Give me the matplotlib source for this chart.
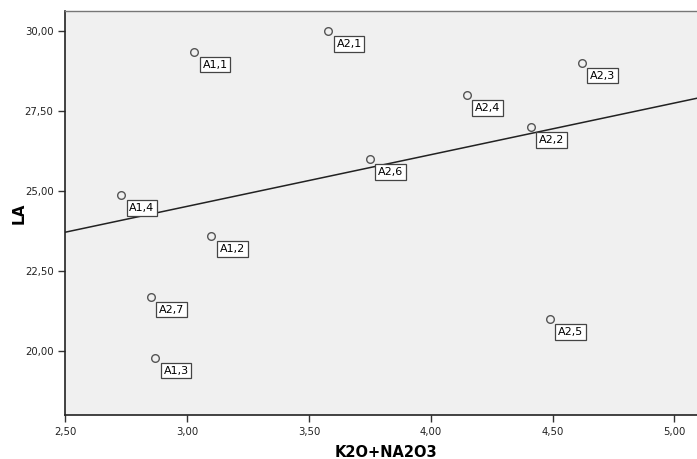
import numpy as np
import matplotlib
matplotlib.use('Agg')
import matplotlib.pyplot as plt
from matplotlib.ticker import FuncFormatter

# values
labels = ['A1,1', 'A2,1', 'A1,4', 'A1,2', 'A2,7', 'A1,3',
          'A2,3', 'A2,4', 'A2,2', 'A2,6', 'A2,5']
k2o_na2o3 = [3.03, 3.58, 2.73, 3.10, 2.85, 2.87, 4.62, 4.15, 4.41, 3.75, 4.49]
la = [29.35, 30.00, 24.88, 23.59, 21.70, 19.79, 29.01, 28.00, 27.00, 26.00, 20.99]

x_ticks = [2.5, 3.0, 3.5, 4.0, 4.5, 5.0]
y_ticks = [20.0, 22.5, 25.0, 27.5, 30.0]

plt.rcParams['font.family'] = 'DejaVu Sans'

fig = plt.figure(figsize=(6.97, 4.59), dpi=100)
ax = fig.add_axes([0.0937, 0.0959, 0.9063, 0.8808])
ax.set_facecolor('#f0f0f0')

x = np.array(k2o_na2o3)
y = np.array(la)
ax.plot(x, y, 'o', ms=5.5, mfc='none', mec='#555555', mew=1.0, zorder=3)

# linear fit
slope, intercept = np.polyfit(x, y, 1)
xl = np.array([2.5, 5.093])
ax.plot(xl, slope * xl + intercept, color='#222222', lw=1.1, zorder=2)

for lab, xi, yi in zip(labels, x, y):
    ax.annotate(lab, (xi, yi), xytext=(8, -8), textcoords='offset pixels',
                ha='left', va='top', fontsize=8, color='black',
                bbox=dict(boxstyle='square,pad=0.25', fc='white',
                          ec='#444444', lw=0.9), zorder=4)

ax.set_xlim(2.5, 5.093)
ax.set_ylim(18.0, 30.63)
ax.set_xticks(x_ticks)
ax.set_yticks(y_ticks)
fmt = FuncFormatter(lambda v, p: f'{v:.2f}'.replace('.', ','))
ax.xaxis.set_major_formatter(fmt)
ax.yaxis.set_major_formatter(fmt)
ax.tick_params(labelsize=7.3, labelcolor='#222222', color='#333333',
               length=5, width=1)

ax.spines['right'].set_visible(False)
ax.spines['top'].set_color('#777777')
ax.spines['top'].set_linewidth(1.0)
for s in ['left', 'bottom']:
    ax.spines[s].set_color('#222222')
    ax.spines[s].set_linewidth(1.2)

ax.set_xlabel('K2O+NA2O3', fontsize=10.5, fontweight='bold')
ax.set_ylabel('LA', fontsize=11, fontweight='bold')
ax.xaxis.set_label_coords(0.508, -0.074)
ax.yaxis.set_label_coords(-0.062, 0.5)

fig.savefig('out.png', dpi=100)
